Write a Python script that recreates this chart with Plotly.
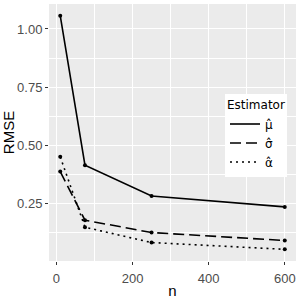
import plotly.graph_objects as go

n_values = [10, 75, 250, 600]
rmse_mu = [1.057, 0.415, 0.283, 0.236]
rmse_sigma = [0.388, 0.179, 0.126, 0.092]
rmse_alpha = [0.451, 0.149, 0.083, 0.054]
labels = ["\u03bc\u0302", "\u03c3\u0302", "\u03b1\u0302"]
x_ticks = [0, 200, 400, 600]
y_ticks = [0.25, 0.50, 0.75, 1.00]

series = [rmse_mu, rmse_sigma, rmse_alpha]
dashes = ["solid", "11px,5px", "2px,4px"]

fig = go.Figure()
for vals, lab, d in zip(series, labels, dashes):
    fig.add_trace(go.Scatter(
        x=n_values, y=vals, name=lab, mode="lines",
        line=dict(color="black", width=1.6, dash=d),
    ))
for vals in series:
    fig.add_trace(go.Scatter(
        x=n_values, y=vals, mode="markers", showlegend=False,
        marker=dict(color="black", size=4),
    ))

allv = rmse_mu + rmse_sigma + rmse_alpha
ymin, ymax = min(allv), max(allv)
ypad = 0.05 * (ymax - ymin)
xmin, xmax = min(n_values), max(n_values)
xpad = 0.05 * (xmax - xmin)

L, R, T, B = 49, 4, 4, 33
W = H = 300
pw, ph = W - L - R, H - T - B

fig.update_layout(
    width=W, height=H,
    margin=dict(l=L, r=R, t=T, b=B),
    paper_bgcolor="white", plot_bgcolor="#EBEBEB",
    font=dict(family="Liberation Sans, Arial, sans-serif", color="black"),
    showlegend=True,
    legend=dict(
        title=dict(text="Estimator", font=dict(size=12, color="black")),
        x=(225 - L) / pw, y=(H - B - 96) / ph, xanchor="left", yanchor="top",
        bgcolor="white", font=dict(size=12, color="black", family="DejaVu Sans"),
        itemwidth=30, tracegroupgap=0,
    ),
    xaxis=dict(
        range=[xmin - xpad, xmax + xpad], tickvals=x_ticks,
        ticktext=[str(v) for v in x_ticks],
        showgrid=True, gridcolor="white", gridwidth=1.1, zeroline=False,
        ticks="outside", ticklen=3, tickcolor="#333333", tickwidth=1,
        ticklabelstandoff=2,
        tickfont=dict(size=13, color="#4D4D4D"),
        title=dict(text="n", font=dict(size=15), standoff=0),
        minor=dict(tickvals=[-100, 100, 300, 500], showgrid=True, gridcolor="white", gridwidth=0.5, ticks=""),
        showline=False,
    ),
    yaxis=dict(
        range=[ymin - ypad, ymax + ypad], tickvals=y_ticks,
        ticktext=["%.2f" % v for v in y_ticks],
        showgrid=True, gridcolor="white", gridwidth=1.1, zeroline=False,
        ticks="outside", ticklen=3, tickcolor="#333333", tickwidth=1,
        tickfont=dict(size=13, color="#4D4D4D"),
        title=dict(text="RMSE", font=dict(size=15), standoff=2),
        minor=dict(tickvals=[0.125, 0.375, 0.625, 0.875, 1.125], showgrid=True, gridcolor="white", gridwidth=0.5, ticks=""),
        showline=False,
    ),
)

fig.write_html("out.html", config={"displayModeBar": False},
               post_script="document.body.style.margin='0';")
